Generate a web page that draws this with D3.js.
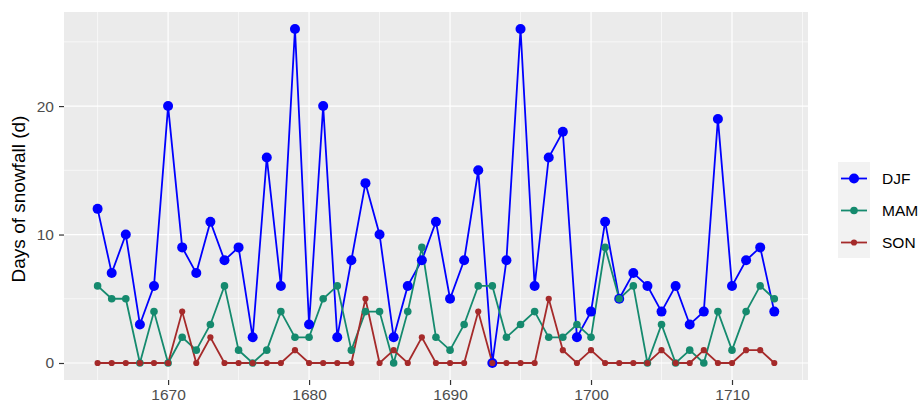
<!DOCTYPE html>
<html>
<head>
<meta charset="utf-8">
<script src="https://cdn.jsdelivr.net/npm/d3@7"></script>
<style>
body { margin: 0; background: #ffffff; }
text { font-family: "Liberation Sans", Arial, sans-serif; }
</style>
</head>
<body>
<svg id="chart" width="922" height="407"></svg>
<script>
const years = d3.range(1665, 1714);
const djf = [12,7,10,3,6,20,9,7,11,8,9,2,16,6,26,3,20,2,8,14,10,2,6,8,11,5,8,15,0,8,26,6,16,18,2,4,11,5,7,6,4,6,3,4,19,6,8,9,4];
const mam = [6,5,5,0,4,0,2,1,3,6,1,0,1,4,2,2,5,6,1,4,4,0,4,9,2,1,3,6,6,2,3,4,2,2,3,2,9,5,6,0,3,0,1,0,4,1,4,6,5];
const son = [0,0,0,0,0,0,4,0,2,0,0,0,0,0,1,0,0,0,0,5,0,1,0,2,0,0,0,4,0,0,0,0,5,1,0,1,0,0,0,0,1,0,0,1,0,0,1,1,0];
const seriesNames = ["DJF", "MAM", "SON"];
const seriesColors = ["#0000ff", "#158a6e", "#a52a2a"];
const seriesRadius = [5, 3.8, 3.1];
const xTicks = [1670, 1680, 1690, 1700, 1710];
const xMinor = [1665, 1675, 1685, 1695, 1705, 1715];
const yTicks = [0, 10, 20];
const yMinor = [5, 15, 25];
const yTitle = "Days of snowfall (d)";

const svg = d3.select("#chart");
const panel = {left: 64, right: 808, top: 12, bottom: 380};

const x = d3.scaleLinear().domain([1665, 1713]).range([97.6, 774.3]);
const y = d3.scaleLinear().domain([0, 26]).range([363, 29]);

const g = svg.append("g");
g.append("rect").attr("x", panel.left).attr("y", panel.top)
  .attr("width", panel.right - panel.left).attr("height", panel.bottom - panel.top)
  .attr("fill", "#ebebeb");

// minor grid
g.selectAll(".ymin").data(yMinor).join("line")
  .attr("x1", panel.left).attr("x2", panel.right)
  .attr("y1", d => y(d)).attr("y2", d => y(d))
  .attr("stroke", "#ffffff").attr("stroke-width", 0.6);
g.selectAll(".xmin").data(xMinor).join("line")
  .attr("y1", panel.top).attr("y2", panel.bottom)
  .attr("x1", d => x(d)).attr("x2", d => x(d))
  .attr("stroke", "#ffffff").attr("stroke-width", 0.6);
// major grid
g.selectAll(".ymaj").data(yTicks).join("line")
  .attr("x1", panel.left).attr("x2", panel.right)
  .attr("y1", d => y(d)).attr("y2", d => y(d))
  .attr("stroke", "#ffffff").attr("stroke-width", 1.2);
g.selectAll(".xmaj").data(xTicks).join("line")
  .attr("y1", panel.top).attr("y2", panel.bottom)
  .attr("x1", d => x(d)).attr("x2", d => x(d))
  .attr("stroke", "#ffffff").attr("stroke-width", 1.2);

// axes
const xAxis = d3.axisBottom(x).tickValues(xTicks).tickFormat(d3.format("d")).tickSize(5).tickPadding(4);
const xg = svg.append("g").attr("transform", `translate(0,${panel.bottom})`).call(xAxis);
xg.select(".domain").remove();
xg.selectAll(".tick line").attr("stroke", "#333333").attr("stroke-width", 1.2);
xg.selectAll(".tick text").attr("fill", "#4d4d4d").style("font-size", "15.5px");

const yAxis = d3.axisLeft(y).tickValues(yTicks).tickSize(5).tickPadding(5);
const yg = svg.append("g").attr("transform", `translate(${panel.left},0)`).call(yAxis);
yg.select(".domain").remove();
yg.selectAll(".tick line").attr("stroke", "#333333").attr("stroke-width", 1.2);
yg.selectAll(".tick text").attr("fill", "#4d4d4d").style("font-size", "15.5px");

svg.append("text")
  .attr("transform", `translate(25,199) rotate(-90)`)
  .attr("text-anchor", "middle")
  .style("font-size", "19px").attr("fill", "#000")
  .text(yTitle);

const data = [djf, mam, son].map((vals, i) => ({
  name: seriesNames[i], color: seriesColors[i], r: seriesRadius[i],
  values: vals.map((v, j) => ({year: years[j], v: v}))
}));

const line = d3.line().x(d => x(d.year)).y(d => y(d.v));
svg.append("g").selectAll("path").data(data).join("path")
  .attr("d", d => line(d.values)).attr("fill", "none")
  .attr("stroke", d => d.color).attr("stroke-width", 1.8);

data.forEach(s => {
  svg.append("g").selectAll("circle").data(s.values).join("circle")
    .attr("cx", d => x(d.year)).attr("cy", d => y(d.v))
    .attr("r", s.r).attr("fill", s.color);
});

// legend
const lg = svg.append("g");
data.forEach((s, i) => {
  const ky = 162 + i * 32;
  lg.append("rect").attr("x", 838).attr("y", ky).attr("width", 32).attr("height", 32).attr("fill", "#f2f2f2");
});
data.forEach((s, i) => {
  const cy = 178.5 + i * 32;
  lg.append("line").attr("x1", 841).attr("x2", 867).attr("y1", cy).attr("y2", cy)
    .attr("stroke", s.color).attr("stroke-width", 1.8);
  lg.append("circle").attr("cx", 854).attr("cy", cy).attr("r", s.r).attr("fill", s.color);
  lg.append("text").attr("x", 882).attr("y", cy).attr("dy", "0.36em")
    .style("font-size", "15.5px").attr("fill", "#000").text(s.name);
});
</script>
</body>
</html>
